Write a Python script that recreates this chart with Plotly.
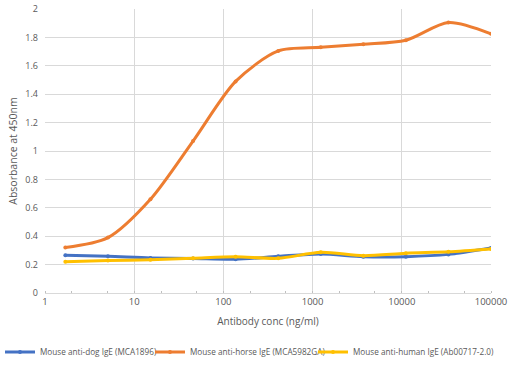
import plotly.graph_objects as go

conc = [1.69, 5.08, 15.2, 45.7, 137, 412, 1235, 3704, 11111, 33333, 100000]
dog = [0.265, 0.258, 0.247, 0.243, 0.238, 0.258, 0.275, 0.256, 0.256, 0.272, 0.317]
horse = [0.32, 0.39, 0.66, 1.07, 1.49, 1.705, 1.73, 1.752, 1.78, 1.905, 1.825]
human = [0.22, 0.228, 0.235, 0.245, 0.255, 0.244, 0.287, 0.263, 0.28, 0.29, 0.31]

names = ["Mouse anti-dog IgE (MCA1896)", "Mouse anti-horse IgE (MCA5982GA)",
         "Mouse anti-human IgE (Ab00717-2.0)"]
colors = ["#4472C4", "#ED7D31", "#FFC000"]
legends = ["legend", "legend2", "legend3"]
leg_x = [-6, 150, 313]

fig = go.Figure()
for ys, nm, c, lg in zip([dog, horse, human], names, colors, legends):
    fig.add_trace(go.Scatter(x=conc, y=ys, name=nm, mode="lines+markers", legend=lg,
                             line=dict(color=c, width=3, shape="spline", smoothing=0.8),
                             marker=dict(color=c, size=4)))

legend_common = dict(orientation="h", xref="container", yref="container",
                     y=1 - 352 / 372, yanchor="middle", xanchor="left",
                     font=dict(size=8.2, color="#595959"), itemwidth=30,
                     bgcolor="rgba(0,0,0,0)", borderwidth=0)

fig.update_layout(
    width=512, height=372,
    margin=dict(l=45, r=21, t=9, b=79, autoexpand=False),
    paper_bgcolor="white", plot_bgcolor="white",
    font=dict(family="Open Sans, Liberation Sans, sans-serif", color="#595959", size=9),
    legend=dict(x=leg_x[0] / 512, **legend_common),
    legend2=dict(x=leg_x[1] / 512, **legend_common),
    legend3=dict(x=leg_x[2] / 512, **legend_common),
    showlegend=True,
)
fig.update_xaxes(type="log", range=[0, 5], showgrid=True, gridcolor="#D9D9D9", gridwidth=1,
                 tickvals=[1, 10, 100, 1000, 10000, 100000],
                 ticktext=["1", "10", "100", "1000", "10000", "100000"],
                 showline=True, linecolor="#D9D9D9", ticks="", tickfont=dict(size=9.5),
                 minor=dict(ticks="inside", ticklen=2, tickcolor="#BFBFBF", showgrid=False),
                 title=dict(text="Antibody conc (ng/ml)", font=dict(size=10, color="#595959"), standoff=10),
                 zeroline=False)
fig.update_yaxes(range=[0, 2], showgrid=True, gridcolor="#D9D9D9", gridwidth=1,
                 tickvals=[0, 0.2, 0.4, 0.6, 0.8, 1, 1.2, 1.4, 1.6, 1.8, 2],
                 ticktext=["0", "0.2", "0.4", "0.6", "0.8", "1", "1.2", "1.4", "1.6", "1.8", "2"],
                 tickfont=dict(size=9), zeroline=False, showline=False, ticklabelstandoff=6,
                 title=dict(text="Absorbance at 450nm", font=dict(size=10.5, color="#595959"), standoff=5))

fig.write_html("out.html", config={"displayModeBar": False},
               post_script="document.body.style.margin='0';document.body.style.overflow='hidden';")
